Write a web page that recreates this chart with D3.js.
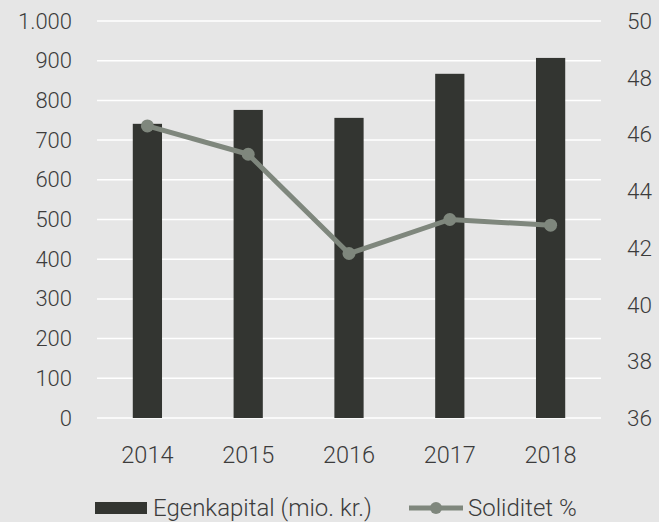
<!DOCTYPE html>
<html>
<head>
<meta charset="utf-8">
<script src="https://cdn.jsdelivr.net/npm/d3@7"></script>
<style>
  body { margin: 0; background: #e6e6e6; }
  svg text { font-family: Roboto, "Noto Sans", sans-serif; font-weight: 300; fill: #3c3c3c; }
</style>
</head>
<body>
<div id="chart"></div>
<script>
var years = ["2014", "2015", "2016", "2017", "2018"];
var egenkapital = [741, 776, 756, 867, 907];
var soliditet = [46.3, 45.3, 41.8, 43.0, 42.8];
var leftTicks = [0, 100, 200, 300, 400, 500, 600, 700, 800, 900, 1000];
var rightTicks = [36, 38, 40, 42, 44, 46, 48, 50];

var width = 659, height = 522;
var plotLeft = 97, plotRight = 601, plotTop = 21, plotBottom = 418;
var barColor = "#333531", lineColor = "#7f877d";

var svg = d3.select("#chart")
    .append("svg")
    .attr("width", width)
    .attr("height", height)

svg.append("rect")
    .attr("width", width)
    .attr("height", height)
    .attr("fill", "#e6e6e6")

var x = d3.scaleBand()
    .domain(years)
    .range([plotLeft, plotRight])
    .paddingInner(0.71)
    .paddingOuter(0.355)
var xCenter = d3.scalePoint()
    .domain(years)
    .range([plotLeft, plotRight])
    .padding(0.5)

var yLeft = d3.scaleLinear().domain([0, 1000]).range([plotBottom, plotTop]);
var yRight = d3.scaleLinear().domain([36, 50]).range([plotBottom, plotTop]);

var fmt = d3.formatLocale({ decimal: ",", thousands: ".", grouping: [3], currency: ["", " kr."] }).format(",");

// gitterlinjer
svg.append("g")
    .selectAll("line")
    .data(leftTicks)
    .enter()
    .append("line")
    .attr("x1", plotLeft)
    .attr("x2", plotRight)
    .attr("y1", d => yLeft(d))
    .attr("y2", d => yLeft(d))
    .attr("stroke", "#ffffff")
    .attr("stroke-width", 1.5)

// venstre akse
svg.append("g")
    .selectAll("text")
    .data(leftTicks)
    .enter()
    .append("text")
    .attr("x", 72)
    .attr("y", d => yLeft(d))
    .attr("text-anchor", "end")
    .attr("dominant-baseline", "central")
    .attr("font-size", 22)
    .text(d => fmt(d))

// højre akse
svg.append("g")
    .selectAll("text")
    .data(rightTicks)
    .enter()
    .append("text")
    .attr("x", 627)
    .attr("y", d => yRight(d))
    .attr("text-anchor", "start")
    .attr("dominant-baseline", "central")
    .attr("font-size", 22.5)
    .text(d => d)

// søjler
svg.append("g")
    .selectAll("rect")
    .data(egenkapital)
    .enter()
    .append("rect")
    .attr("x", (d, i) => x(years[i]))
    .attr("y", d => yLeft(d))
    .attr("width", x.bandwidth())
    .attr("height", d => plotBottom - yLeft(d))
    .attr("fill", barColor)

// x-akse labels
svg.append("g")
    .selectAll("text")
    .data(years)
    .enter()
    .append("text")
    .attr("x", d => xCenter(d))
    .attr("y", 463)
    .attr("text-anchor", "middle")
    .attr("font-size", 23.5)
    .text(d => d)

// soliditet linje
var line = d3.line()
    .x((d, i) => xCenter(years[i]))
    .y(d => yRight(d))
svg.append("path")
    .datum(soliditet)
    .attr("d", line)
    .attr("fill", "none")
    .attr("stroke", lineColor)
    .attr("stroke-width", 5)
    .attr("stroke-linejoin", "round")
svg.append("g")
    .selectAll("circle")
    .data(soliditet)
    .enter()
    .append("circle")
    .attr("cx", (d, i) => xCenter(years[i]))
    .attr("cy", d => yRight(d))
    .attr("r", 6.5)
    .attr("fill", lineColor)

// legend
var legend = svg.append("g")
legend.append("rect")
    .attr("x", 95)
    .attr("y", 502)
    .attr("width", 52)
    .attr("height", 12)
    .attr("fill", barColor)
legend.append("text")
    .attr("x", 153)
    .attr("y", 516)
    .attr("font-size", 24)
    .text("Egenkapital (mio. kr.)")
legend.append("line")
    .attr("x1", 409)
    .attr("x2", 463)
    .attr("y1", 508)
    .attr("y2", 508)
    .attr("stroke", lineColor)
    .attr("stroke-width", 5)
legend.append("circle")
    .attr("cx", 436)
    .attr("cy", 508)
    .attr("r", 6)
    .attr("fill", lineColor)
legend.append("text")
    .attr("x", 468)
    .attr("y", 516)
    .attr("font-size", 24)
    .text("Soliditet %")
</script>
</body>
</html>
